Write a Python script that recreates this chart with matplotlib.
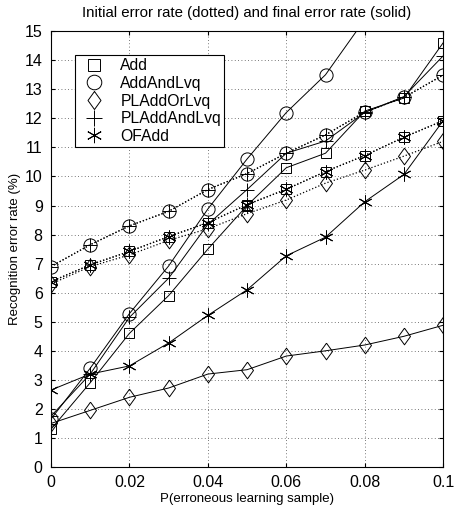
import numpy as np
import matplotlib.pyplot as plt
from matplotlib.lines import Line2D

plt.rcParams['font.family'] = ['Liberation Sans', 'DejaVu Sans']
plt.rcParams['font.size'] = 10

x = [0, 0.01, 0.02, 0.03, 0.04, 0.05, 0.06, 0.07, 0.08, 0.09, 0.1]

# final error rate (solid)
add_final = [1.3, 2.9, 4.6, 5.9, 7.5, 9.0, 10.3, 10.8, 12.25, 12.7, 14.6]
addlvq_final = [1.65, 3.4, 5.28, 6.92, 8.88, 10.6, 12.2, 13.5, 15.4, 17.0, 18.5]
ploradd_final = [1.5, 1.95, 2.4, 2.72, 3.2, 3.35, 3.82, 4.0, 4.2, 4.5, 4.88]
pladdlvq_final = [1.75, 3.2, 5.15, 6.5, 8.35, 9.55, 10.8, 11.22, 12.2, 12.75, 14.15]
ofadd_final = [2.65, 3.2, 3.48, 4.27, 5.22, 6.1, 7.27, 7.91, 9.13, 10.07, 11.92]

# initial error rate (dotted)
add_init = [6.38, 6.96, 7.42, 7.93, 8.41, 9.03, 9.56, 10.17, 10.72, 11.35, 11.92]
addlvq_init = [6.9, 7.65, 8.3, 8.8, 9.55, 10.1, 10.8, 11.43, 12.22, 12.72, 13.49]
ploradd_init = [6.3, 6.9, 7.3, 7.8, 8.2, 8.72, 9.19, 9.77, 10.22, 10.7, 11.21]
pladdlvq_init = addlvq_init
ofadd_init = add_init

names = ['Add', 'AddAndLvq', 'PLAddOrLvq', 'PLAddAndLvq', 'OFAdd']
diamond = [(0, 1), (0.72, 0), (0, -1), (-0.72, 0), (0, 1)]
markers = ['s', 'o', diamond, '+', (6, 2, 0)]
sizes = [7.5, 9.5, 12, 10, 10]
finals = [add_final, addlvq_final, ploradd_final, pladdlvq_final, ofadd_final]
inits = [add_init, addlvq_init, ploradd_init, pladdlvq_init, ofadd_init]

fig = plt.figure(figsize=(4.55, 5.11), dpi=100)
ax = fig.add_axes([0.112, 0.086, 0.862, 0.853])

for m, s, yi, yf in zip(markers, sizes, inits, finals):
    ax.plot(x, yi, linestyle=':', color='k', lw=0.9, marker=m, ms=s,
            mfc='none', mec='k', mew=0.7)
    ax.plot(x, yf, linestyle='-', color='k', lw=0.7, marker=m, ms=s,
            mfc='none', mec='k', mew=0.7)

ax.set_xlim(0, 0.1)
ax.set_ylim(0, 15)
ax.set_xticks(np.arange(0, 0.101, 0.02))
ax.set_xticklabels(['0', '0.02', '0.04', '0.06', '0.08', '0.1'])
ax.set_yticks(range(0, 16))
ax.grid(True, linestyle=(0, (1, 3)), color='k', lw=0.6, alpha=0.7)
ax.tick_params(direction='in', top=True, right=True, length=3, labelsize=11.5, pad=6)
for sp in ax.spines.values():
    sp.set_linewidth(0.8)

ax.set_xlabel('P(erroneous learning sample)', fontsize=9.5, labelpad=2)
ax.set_ylabel('Recognition error rate (%)', fontsize=9.5, labelpad=3)
ax.set_title('Initial error rate (dotted) and final error rate (solid)', fontsize=10.8, pad=10)

handles = []
for n, m, s in zip(names, markers, sizes):
    handles.append(Line2D([], [], linestyle='none', marker=m, ms=s + 1,
                          mfc='none', mec='k', mew=0.7, label=n))
leg = ax.legend(handles=handles, loc='upper left', bbox_to_anchor=(0.061, 0.945),
                fontsize=11.3, frameon=True, fancybox=False, edgecolor='k',
                framealpha=1, borderpad=0.2, labelspacing=0.17, handletextpad=0.7,
                handlelength=2.0, borderaxespad=0)
leg.get_frame().set_linewidth(0.8)

plt.savefig('out.png', dpi=100)
